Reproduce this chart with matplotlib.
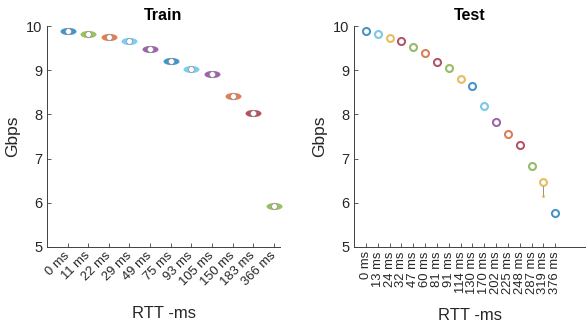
import numpy as np
import matplotlib
matplotlib.use("Agg")
import matplotlib.pyplot as plt
from matplotlib.path import Path
from matplotlib.transforms import Affine2D

plt.rcParams['font.family'] = ['Liberation Sans', 'DejaVu Sans']

# matlab default palette
BLUE, ORANGE, YELLOW, PURPLE = '#0072BD', '#D95319', '#EDB120', '#7E2F8E'
GREEN, LBLUE, DRED = '#77AC30', '#4DBEEE', '#A2142F'

train_labels = ['0 ms', '11 ms', '22 ms', '29 ms', '49 ms', '75 ms', '93 ms',
                '105 ms', '150 ms', '183 ms', '366 ms']
train_vals = [9.88, 9.83, 9.74, 9.67, 9.47, 9.21, 9.03, 8.92, 8.41, 8.04, 5.92]
train_colors = [BLUE, GREEN, ORANGE, LBLUE, PURPLE, BLUE, LBLUE, PURPLE,
                ORANGE, DRED, GREEN]

test_labels = ['0 ms', '13 ms', '24 ms', '32 ms', '47 ms', '60 ms', '81 ms',
               '91 ms', '114 ms', '130 ms', '170 ms', '202 ms', '225 ms',
               '248 ms', '287 ms', '319 ms', '376 ms']
test_vals = [9.88, 9.82, 9.73, 9.66, 9.52, 9.39, 9.18, 9.06, 8.81, 8.64,
             8.20, 7.82, 7.56, 7.31, 6.83, 6.47, 5.78]
test_colors = [BLUE, LBLUE, YELLOW, DRED, GREEN, ORANGE, DRED, GREEN, YELLOW,
               BLUE, LBLUE, PURPLE, ORANGE, DRED, GREEN, YELLOW, BLUE]
# lower whisker / outlier (only the 319 ms run has one)
test_low = [None] * 15 + [6.15, None]

AX_COLOR = '#404040'

# flat ellipse marker for the train blobs
circ = Path.unit_circle()
ellipse = circ.transformed(Affine2D().scale(1.0, 0.45))


def style_axes(ax):
    for s in ['top', 'right']:
        ax.spines[s].set_visible(False)
    for s in ['left', 'bottom']:
        ax.spines[s].set_color(AX_COLOR)
        ax.spines[s].set_linewidth(0.7)
    ax.tick_params(direction='in', length=3, width=0.6, colors=AX_COLOR,
                   labelcolor='#262626', labelsize=10.5)
    ax.set_ylim(5, 10)
    ax.set_yticks([5, 6, 7, 8, 9, 10])


fig = plt.figure(figsize=(5.86, 3.29), dpi=100)

# Train
ax1 = fig.add_axes([47 / 586, 82 / 329, 233 / 586, 221 / 329])
style_axes(ax1)
x1 = np.arange(1, len(train_vals) + 1)
for xi, v, c in zip(x1, train_vals, train_colors):
    ax1.plot(xi, v, marker=ellipse, markersize=11.5, color=c, alpha=0.75,
             markeredgewidth=0, linestyle='none', clip_on=False)
    ax1.plot(xi, v, marker='o', markersize=4.2, markerfacecolor='white',
             markeredgecolor='#909090', markeredgewidth=0.5,
             linestyle='none', clip_on=False)
ax1.set_xlim(0, 11.3)
ax1.set_xticks(x1)
ax1.set_xticklabels(train_labels, rotation=45, ha='right', va='center',
                    rotation_mode='anchor', fontsize=9.4)
ax1.tick_params(axis='x', pad=5)
ax1.set_title('Train', fontsize=11.5, fontweight='bold', pad=4)
ax1.set_ylabel('Gbps', fontsize=12.5, color='#262626')
ax1.set_xlabel('RTT -ms', fontsize=12, color='#262626')
ax1.xaxis.set_label_coords(0.5, -0.265)

# Test
ax2 = fig.add_axes([354 / 586, 82 / 329, 232 / 586, 221 / 329])
style_axes(ax2)
x2 = np.arange(1, len(test_vals) + 1)
for xi, v, lo, c in zip(x2, test_vals, test_low, test_colors):
    if lo is not None:
        ax2.plot([xi, xi], [lo, v], color='#808080', lw=0.6)
        ax2.plot(xi, lo, marker='o', markersize=2.5, color=c, alpha=0.6,
                 markeredgewidth=0, linestyle='none')
    ax2.plot(xi, v, marker='o', markersize=6.5, color=c, alpha=0.8,
             markeredgewidth=0, linestyle='none')
    ax2.plot(xi, v, marker='o', markersize=3.8, markerfacecolor='white',
             markeredgecolor='#b0b0b0', markeredgewidth=0.3,
             linestyle='none')
ax2.set_xlim(0, 19.6)
ax2.set_xticks(x2)
ax2.set_xticklabels(test_labels, rotation=90, fontsize=9.4)
ax2.tick_params(axis='x', pad=3)
ax2.set_title('Test', fontsize=11.5, fontweight='bold', pad=4)
ax2.set_ylabel('Gbps', fontsize=12.5, color='#262626')
ax2.set_xlabel('RTT -ms', fontsize=12, color='#262626')
ax2.xaxis.set_label_coords(0.5, -0.275)

fig.savefig('out.png', dpi=100)
